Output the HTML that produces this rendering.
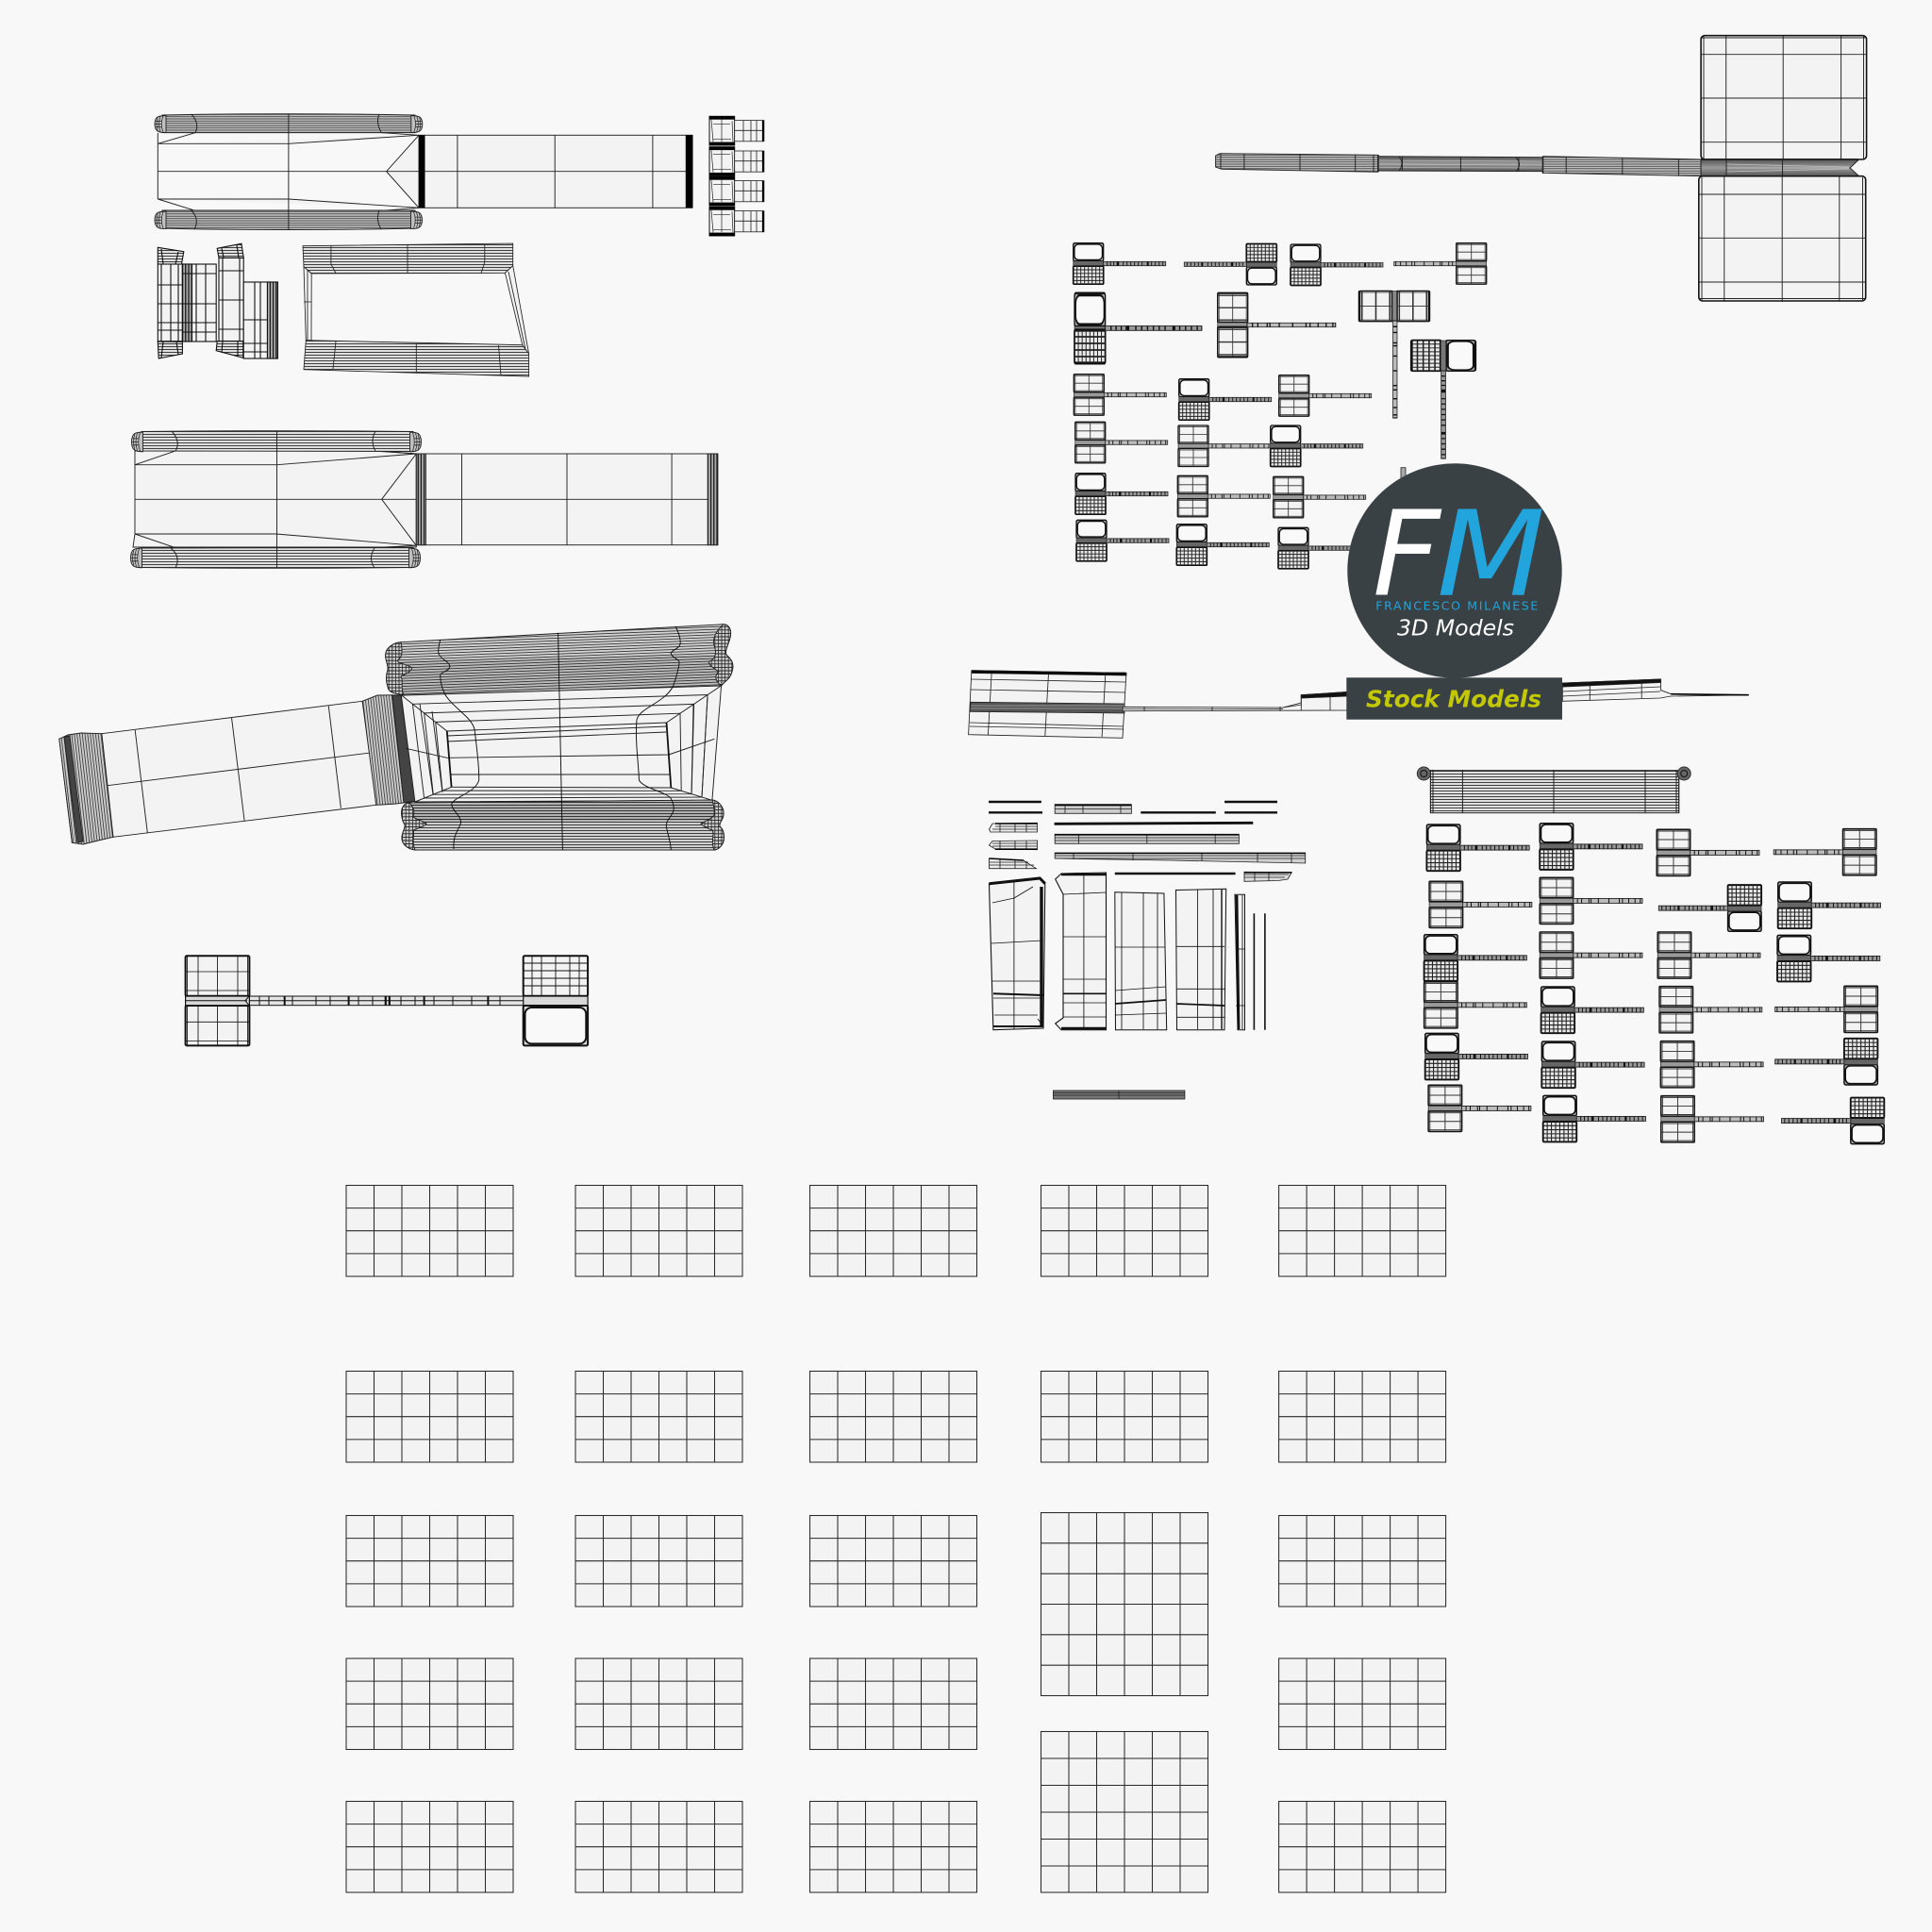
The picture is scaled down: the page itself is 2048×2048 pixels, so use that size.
<!DOCTYPE html>
<html><head><meta charset="utf-8"><title>FM 3D Models wireframe</title>
<style>html,body{margin:0;padding:0;background:#f8f8f8}svg{display:block}</style></head>
<body>
<svg xmlns="http://www.w3.org/2000/svg" width="2048" height="2048" viewBox="0 0 2048 2048">
<defs>
<linearGradient id="bandg" x1="0" y1="0" x2="0" y2="1"><stop offset="0" stop-color="#555"/><stop offset=".5" stop-color="#9a9a9a"/><stop offset="1" stop-color="#555"/></linearGradient>
<pattern id="h25" width="10" height="2.4" patternUnits="userSpaceOnUse"><rect width="10" height="2.4" fill="#c4c4c4"/><path d="M0 1.2H10" stroke="#333" stroke-width=".8"/></pattern>
<pattern id="h3" width="10" height="3" patternUnits="userSpaceOnUse"><rect width="10" height="3" fill="#e0e0e0"/><path d="M0 1.5H10" stroke="#222" stroke-width=".85"/></pattern>
<pattern id="h2" width="10" height="2" patternUnits="userSpaceOnUse"><rect width="10" height="2" fill="#aaa"/><path d="M0 1H10" stroke="#222" stroke-width=".7"/></pattern>
<pattern id="r1" width="10" height="2.8" patternUnits="userSpaceOnUse" patternTransform="rotate(-2.2)"><rect width="10" height="2.8" fill="#d4d4d4"/><path d="M0 1.4H10" stroke="#222" stroke-width=".8"/></pattern>
<pattern id="r3" width="10" height="3" patternUnits="userSpaceOnUse"><rect width="10" height="3" fill="#d0d0d0"/><path d="M0 1.5H10" stroke="#222" stroke-width=".85"/></pattern>
<pattern id="v3" width="2.8" height="10" patternUnits="userSpaceOnUse" patternTransform="rotate(-6.5)"><rect width="2.8" height="10" fill="#ccc"/><path d="M1.4 0V10" stroke="#222" stroke-width=".75"/></pattern>
<pattern id="v2" width="3.2" height="10" patternUnits="userSpaceOnUse"><rect width="3.2" height="10" fill="#aaa"/><path d="M1.6 0V10" stroke="#000" stroke-width="1.1"/></pattern>
<pattern id="x2" width="3.6" height="3.6" patternUnits="userSpaceOnUse"><rect width="3.6" height="3.6" fill="#ccc"/><path d="M1.8 0V3.6M0 1.8H3.6" stroke="#222" stroke-width=".8"/></pattern>

<g id="panel" fill="none" stroke="#2a2a2a" stroke-width="1.05"><rect width="177" height="96.5" fill="#f3f3f3"/><path d="M29.5 0V96.5M59 0V96.5M88.5 0V96.5M118 0V96.5M147.5 0V96.5M0 24.1H177M0 48.2H177M0 72.4H177"/></g>

<g id="ec"><path d="M12 0Q5 .3 3 1.5Q0 3.5 0 9Q0 14.5 3 16.5Q5 18 12 18Z" fill="#c0c0c0" stroke="#222" stroke-width=".9"/><path d="M9 .5Q5.5 9 9 17.5M6 1Q3 9 6 17M3.2 2Q1 9 3.2 16M1 6H8M.5 9H7M1 12H8" fill="none" stroke="#222" stroke-width=".7"/></g>

<g id="hb"><rect width="32" height="19" rx="1.5" fill="#aaa" stroke="#111" stroke-width="1.3"/><rect x="1.2" y="1.2" width="29.6" height="16.6" rx="4.5" fill="#f9f9f9" stroke="#111" stroke-width="1.4"/></g>
<g id="hd"><rect width="32" height="19" rx="1" fill="#e8e8e8" stroke="#111" stroke-width="1.7"/><path d="M4 0V19M8 0V19M12 0V19M16 0V19M20 0V19M24 0V19M28 0V19M0 3.8H32M0 7.6H32M0 11.4H32M0 15.2H32" stroke="#222" stroke-width=".95" fill="none"/></g>
<g id="hg"><rect width="32" height="19" rx=".8" fill="#f3f3f3" stroke="#111" stroke-width="1.35"/><path d="M1.5 0V19M16 0V19M30.5 0V19M0 1.5H32M0 9.5H32M0 17.5H32" stroke="#333" stroke-width=".85" fill="none"/></g>
<g id="hl"><rect width="66" height="4.4" fill="#999" stroke="#222" stroke-width=".8"/><path d="M4 0V4.4M7.5 0V4.4M11 0V4.4M14.5 0V4.4M21 0V4.4M25 0V4.4M29 0V4.4M33 0V4.4M37 0V4.4M41 0V4.4M51 0V4.4M55 0V4.4M59 0V4.4M63 0V4.4" stroke="#111" stroke-width=".9" fill="none"/><path d="M15.5 0V4.4M47 0V4.4" stroke="#111" stroke-width="2"/></g>
<g id="hs"><rect width="66" height="4.4" fill="#bbb" stroke="#222" stroke-width=".8"/><path d="M4 0V4.4M8 0V4.4M15 0V4.4M17 0V4.4M24 0V4.4M34 0V4.4M44 0V4.4M47 0V4.4M53 0V4.4M59 0V4.4M64 0V4.4" stroke="#111" stroke-width=".9" fill="none"/></g>
<g id="A"><use href="#hb"/><rect y="19" width="32" height="5.2" fill="#666" stroke="#222" stroke-width=".6"/><use href="#hd" y="24.5"/><use href="#hl" x="32" y="19.6"/></g>
<g id="B"><use href="#hg"/><rect y="19.5" width="32" height="4.5" fill="#999" stroke="#222" stroke-width=".6"/><use href="#hg" y="24.5"/><use href="#hs" x="32" y="19.6"/></g>

<g id="tool"><rect width="26.7" height="30.7" fill="#f3f3f3" stroke="#111" stroke-width="1"/><rect width="26.7" height="3.4" fill="#000"/><rect y="27.3" width="26.7" height="3.4" fill="#000"/><path d="M2 3.5L4 27M24 5L25 27M4 8H22M4 24H23M13 3V27" stroke="#222" stroke-width=".7" fill="none"/><rect x="26.7" y="4.3" width="31.2" height="22.2" fill="#f3f3f3" stroke="#222" stroke-width=".8"/><path d="M36 4.3V26.5M44 4.3V26.5M50 4.3V26.5M26.7 15H58" stroke="#222" stroke-width=".8" fill="none"/><rect x="55.9" y="4.3" width="2" height="22.2" fill="#000"/></g>
</defs>

<rect width="2048" height="2048" fill="#f8f8f8"/>

<!-- Panels -->
<use href="#panel" x="367" y="1256.5"/><use href="#panel" x="610" y="1256.5"/><use href="#panel" x="858.5" y="1256.5"/><use href="#panel" x="1103.5" y="1256.5"/><use href="#panel" x="1355.6" y="1256.5"/>
<use href="#panel" x="367" y="1453.5"/><use href="#panel" x="610" y="1453.5"/><use href="#panel" x="858.5" y="1453.5"/><use href="#panel" x="1103.5" y="1453.5"/><use href="#panel" x="1355.6" y="1453.5"/>
<use href="#panel" x="367" y="1606.5"/><use href="#panel" x="610" y="1606.5"/><use href="#panel" x="858.5" y="1606.5"/><use href="#panel" x="1355.6" y="1606.5"/>
<use href="#panel" x="367" y="1758"/><use href="#panel" x="610" y="1758"/><use href="#panel" x="858.5" y="1758"/><use href="#panel" x="1355.6" y="1758"/>
<use href="#panel" x="367" y="1909.5"/><use href="#panel" x="610" y="1909.5"/><use href="#panel" x="858.5" y="1909.5"/><use href="#panel" x="1355.6" y="1909.5"/>
<g fill="none" stroke="#2a2a2a" stroke-width="1.05">
<rect x="1103.5" y="1603.5" width="177" height="194" fill="#f3f3f3"/><path d="M1133 1603V1797M1162.5 1603V1797M1192 1603V1797M1221.5 1603V1797M1251 1603V1797M1103.5 1635.8H1280.5M1103.5 1668.2H1280.5M1103.5 1700.5H1280.5M1103.5 1732.8H1280.5M1103.5 1765.2H1280.5"/>
<rect x="1103.5" y="1835.5" width="177" height="170.5" fill="#f3f3f3"/><path d="M1133 1835V2006M1162.5 1835V2006M1192 1835V2006M1221.5 1835V2006M1251 1835V2006M1103.5 1864H1280.5M1103.5 1892.5H1280.5M1103.5 1921H1280.5M1103.5 1949.5H1280.5M1103.5 1978H1280.5"/>
</g>

<!-- Part A -->
<g stroke="#222" stroke-width=".95" fill="none">
<path d="M167.3 141V211M167.3 152.3H305.9L444 143.3M167.3 181.7H444M167.3 211H305.9L444 220.3M444 143.3L409.6 181.7 444 220.3M167.3 152.3L207 140.7M444 143.3L404.6 140.7M167.3 211L207 223.3M444 220.3L404.6 223.3" fill="#f3f3f3"/>
<path d="M172 122Q240 120.7 305 120.7T440 122V140.7H172Z" fill="url(#h25)"/>
<path d="M172 223H440V242Q380 243.5 305 243.5T172 242Z" fill="url(#h25)"/>
<path d="M202.6 121Q212 130 207 141M402 121Q398 130 404.6 141M202.6 223Q212 232 206 243M402 223Q398 233 404 243M305.9 120.7V243.3"/>
<rect x="444" y="143.3" width="290.1" height="77" fill="#f3f3f3"/>
<path d="M444 181.7H734M484.9 143.3V220.3M588.2 143.3V220.3M691.9 143.3V220.3"/>
</g>
<use href="#ec" transform="translate(164,122.5)"/><use href="#ec" transform="translate(447.8,122.5) scale(-1,1)"/><use href="#ec" transform="translate(164,224) scale(1,1.03)"/><use href="#ec" transform="translate(447.5,224) scale(-1,1.03)"/>
<rect x="444" y="143.3" width="6.5" height="77" fill="#000"/><rect x="726.8" y="143.3" width="7.3" height="77" fill="#000"/>
<use href="#tool" x="752" y="123.3"/><use href="#tool" x="752" y="155.7"/><use href="#tool" x="752" y="187.3"/><use href="#tool" x="752" y="219.3"/>

<!-- Side pieces -->
<g stroke="#111" stroke-width="1.1" fill="none">
<rect x="167.3" y="280" width="26.1" height="81.7" fill="#f3f3f3"/>
<path d="M171 280V362M181 280V362M189 280V362M167 302H193M167 322H193M167 342H193M167 350H193"/>
<rect x="193.4" y="280" width="35.8" height="82" fill="#f3f3f3"/>
<rect x="193.4" y="280" width="10.1" height="82" fill="url(#v2)"/>
<path d="M208 280V362M218 280V362M193 290H229M193 322H229M193 342H229M193 352H229"/>
<path d="M167.3 262.3L194.8 266.7 192.5 280H167.3Z" fill="url(#h3)"/><path d="M167.3 362L193.4 362.3 193.4 375 168.2 380Z" fill="url(#h3)"/>
<path d="M171 264L173 280M189 267L186 280M171 379L173 362M189 376L187 362" />
<rect x="232" y="273.3" width="26.2" height="88.4" fill="#f3f3f3"/>
<path d="M236 273V362M254 273V362M232 287H258M232 318H258M232 349H258"/>
<rect x="258.2" y="299" width="36.2" height="81" fill="#f3f3f3"/>
<path d="M270 299V380M276 299V380M258 339H294M258 364H294M258 373H294"/>
<rect x="283.4" y="299" width="11" height="81" fill="url(#v2)"/>
<path d="M230.2 263.3L255.9 258.3 258.2 273.3H232Z" fill="url(#h3)"/><path d="M230.2 361.7H257.7V379.3L229.2 371.7Z" fill="url(#h3)"/>
<path d="M235 263L237 273M251 260L253 273M235 374L236 362M252 378L252 362"/>
</g>

<!-- Frame -->
<g stroke="#222" stroke-width=".85" fill="none">
<path d="M321 260.7L543.7 258V281.7L535.4 289.3 330.2 290 322 282.7Z" fill="url(#h3)"/>
<path d="M324.3 360.7L553.8 365.7 560.6 375V399L322 391.7Z" fill="url(#h3)"/>
<path d="M322 282.7L330.2 290 330 360.7 324.3 360.7ZM326 286V361M322 320H330" fill="#f3f3f3"/>
<path d="M543.7 281.7L535.4 289.3 553.8 365.7 560.6 375ZM539 288L557 370" fill="#f3f3f3"/>
<path d="M350.9 260.7V280L356 289.5M432 259.5V290M513.8 259V278L510 289.5M356 362L353 391M441.3 364V395M528.5 366L531 398"/>
</g>

<!-- Part C -->
<g stroke="#222" stroke-width=".95" fill="none">
<path d="M143 478V566L141 580H441.3V481L400 478Z" fill="#f3f3f3"/>
<path d="M143 492.7H293.5L441.3 481M143 529.3H441.3M143 566H292.6L441.3 578.3M143 492.7L185 478.3M441.3 481L400 478.3M143 566L185 580.3M441.3 578.3L400 580.3M441.3 481L404.6 529.3 441.3 578.3"/>
<path d="M150 457.5Q230 456.7 300 456.7T438 457.5V478.5L150 478Z" fill="url(#h3)"/>
<path d="M150 581L438 580.5V601.5Q370 602.3 300 602.3T150 601.5Z" fill="url(#h3)"/>
<path d="M182 457Q192 468 186 478M398 457Q392 468 398 478M181 581Q192 590 186 602M397 581Q390 592 397 602M293.5 456.7V602"/>
<rect x="441.3" y="481" width="319.5" height="96.7" fill="#f3f3f3"/>
<path d="M441.3 529.3H760.8M489.5 481V577.7M601 481V577.7M712.1 481V577.7"/>
<rect x="441.3" y="481" width="10.1" height="96.7" fill="url(#v2)"/>
<rect x="750.2" y="481" width="10.6" height="96.7" fill="url(#v2)"/>
</g>
<use href="#ec" transform="translate(139.5,458) scale(1,1.15)"/><use href="#ec" transform="translate(446.5,458) scale(-1,1.15)"/><use href="#ec" transform="translate(138.5,581) scale(1,1.15)"/><use href="#ec" transform="translate(445.5,581) scale(-1,1.15)"/>

<!-- Part D -->
<g stroke="#222" stroke-width=".95" fill="none">
<path d="M62.8 783.3L107.9 777.7 384.1 743.3 415.6 736.7 439.9 849.3 398.7 853.3 120 887.3 76.4 893.3Z" fill="#f3f3f3"/>
<path d="M69 838.3L430.2 793.3M143.2 774L156.3 882.7M245.5 760.7L259.1 870M348.3 748.3L361.4 856.7"/>
<path d="M62.8 783.3L72 779 86 777 107.9 777.7 120 887.3 100 892 88 895 76.4 893.3Z" fill="url(#v3)"/>
<path d="M384.1 743.3L400 737 425 736.7 439.9 849.3 420 852 405 853 398.7 853.3Z" fill="url(#v3)"/>
<path d="M68 781L74 780 88 892 82 893Z" fill="#444"/>
<path d="M416 737L425 737 440 849 428 851Z" fill="#444"/>
<path d="M425.3 736.7L764.6 726.7 754.9 848.3 439.9 850Z" fill="#f3f3f3"/>
<path d="M437.4 746.3L750.1 736.5 744 845 449.6 846ZM449.6 755.9L735.6 746.4 733.1 841.7 459.3 842.2ZM461.7 765.4L721 756.2 722.2 838.3 469 838.1Z"/>
<path d="M473.8 775L706.5 766 711.3 835 478.6 834.3Z" fill="#f3f3f3"/>
<path d="M425.3 736.7L473.8 775M764.6 726.7L706.5 766M754.9 848.3L711.3 835M439.9 850L478.6 834.3M430.2 793.3L473.8 803.3 708.9 800 757.4 783.3M478 821H710M474 780L706 770M474 786L706 776M445 746L459 842M458 754L469 840M735 747L733 842M750 738L744 845"/>
<path d="M473.8 775L478.6 834.3M706.5 766L711.3 835" stroke="#111" stroke-width="1.8"/>
<path d="M425 680.7L767 661.7C773 662 776 668 774 676C772 684 768 690 770 694C774 698 779 702 776 712C774 720 768 722 764.6 727L428.3 737C420 735 412 735 411 728C409 722 409 716 411 710C412 704 407 698 409 692C410 686 418 681 425 680.7Z" fill="url(#r1)"/>
<path d="M420 700L435 708 425 720 428 737 765 727 771 694 420 700Z" fill="#000" fill-opacity=".1" stroke="none"/>
<path d="M434 851L755 848C762 849 768 856 767 864C766 870 762 872 763 876C768 880 768 888 767 892C765 898 760 901 757 901L440 901C432 900 426 895 426 888C426 882 430 878 429 874C426 870 425 862 426 858C427 854 430 851 434 851Z" fill="url(#r3)"/>
<path d="M430 852L757 849 764 870 440 872Z" fill="#000" fill-opacity=".15" stroke="none"/>
<path d="M425 680.7C418 681 410 686 409 692C407 698 412 704 411 710C409 716 409 722 411 728C412 735 420 735 428 737C424 728 428 722 425 716.7C432 714 437 710 436.7 708C432 704 420 703 421.7 700C426 697 427 690 425 680.7Z" fill="url(#x2)"/>
<path d="M767 661.7C773 662 776 668 774 676C772 684 768 690 770 694C774 698 779 702 776 712C774 720 768 722 764.6 727C758 722 757 716 762 712C756 708 750 704 752 701C760 698 759 690 757 684C755 676 760 668 767 661.7Z" fill="url(#x2)"/>
<path d="M434 851C430 851 427 854 426 858C425 862 426 870 429 874C430 878 426 882 426 888C426 895 432 900 440 901C436 892 440 884 438 880C444 878 452 875 452 873C448 870 440 868 438 866C440 860 438 855 434 851Z" fill="url(#x2)"/>
<path d="M755 848C762 849 768 856 767 864C766 870 762 872 763 876C768 880 768 888 767 892C765 898 760 901 757 901C753 892 758 884 755 880C750 878 743 875 743 873C748 870 755 868 757 864C758 858 756 852 755 848Z" fill="url(#x2)"/>
<path d="M466.7 678C465 685 464 690 465 693C468 700 478 702 476.7 707C476 712 466 712 466.7 717C467 725 469 730 471.7 736C480 750 500 760 503 773C505 790 508 810 507.7 826.7C505 840 480 845 478.6 853C480 860 490 866 488.3 873C486 880 480 885 481 900M591.6 670.7L596.4 901M716.2 664C720 672 722 678 721 683C720 688 711 689 711.3 693C712 697 721 699 720 703C719 712 716 720 713.7 727C705 745 678 750 675 763C673 785 677 810 677.4 826.7C680 835 708 840 711.3 846.7C714 852 715 856 713.7 860C712 866 705 870 706.5 877C708 885 711 893 711.3 901" stroke="#111"/>
</g>

<!-- Big hammer bottom-left -->
<g stroke="#111" fill="none">
<g stroke-width="1"><rect x="264" y="1056" width="291" height="9.7" fill="#e4e4e4"/>
<path d="M275 1056V1065.7M285 1056V1065.7M310 1056V1065.7M335 1056V1065.7M350 1056V1065.7M380 1056V1065.7M395 1056V1065.7M425 1056V1065.7M440 1056V1065.7M460 1056V1065.7M480 1056V1065.7M500 1056V1065.7M530 1056V1065.7M264 1060.8H555"/></g>
<path d="M301.7 1056V1065.7M369.6 1056V1065.7M449.6 1056V1065.7M517.4 1056V1065.7" stroke-width="2"/><path d="M408.8 1056V1065.7M412.8 1056V1065.7" stroke-width="2.2"/>
<rect x="196.6" y="1013.3" width="67.8" height="42.4" rx="1.5" fill="#f3f3f3" stroke-width="2"/>
<rect x="196.6" y="1066" width="67.8" height="42.4" rx="1.5" fill="#f3f3f3" stroke-width="2"/>
<path d="M198.5 1013V1056M230.5 1013V1056M262.5 1013V1056M197 1030H264M197 1050H264M198.5 1066V1108M230.5 1066V1108M262.5 1066V1108M197 1083.3H264M197 1103.5H264M210 1013V1056M252 1013V1056M210 1066V1108M252 1066V1108" stroke-width=".85"/>
<rect x="196.6" y="1056" width="67.8" height="9.7" fill="#d8d8d8" stroke-width="1.2"/><path d="M197 1060.8H262" stroke-width="1"/><path d="M264 1056L260 1060.8 264 1065.7" stroke-width="1"/>
<rect x="554.7" y="1013.3" width="68.4" height="42.4" rx="1.5" fill="#f3f3f3" stroke-width="2"/>
<path d="M564 1013V1056M574 1013V1056M589 1013V1056M604 1013V1056M614 1013V1056M555 1021H623M555 1029H623M555 1037H623M555 1045H623" stroke-width=".9"/>
<rect x="554.7" y="1056" width="68.4" height="9.7" fill="#d8d8d8" stroke-width="1.2"/>
<rect x="554.7" y="1066" width="68.4" height="42.4" rx="1.5" fill="#dcdcdc" stroke-width="2"/>
<rect x="556.5" y="1068" width="64.8" height="38.4" rx="7" fill="#f9f9f9" stroke-width="2"/>
</g>

<!-- Big hammer top-right -->
<g stroke="#222" fill="none" stroke-width=".95">
<rect x="1803.1" y="37.7" width="175.5" height="131.3" rx="4" fill="#f3f3f3" stroke="#111" stroke-width="1.6"/>
<path d="M1829.7 38V169M1890.2 37V169M1951.6 38V169M1803 57.7H1978.6M1803 104H1978.6M1803 150.7H1978.6M1806 38V169M1975.5 38V169M1804 40H1978"/>
<rect x="1800.8" y="186.7" width="176.9" height="132.3" rx="4" fill="#f3f3f3" stroke="#111" stroke-width="1.6"/>
<path d="M1827.8 187V319M1889.2 187V320M1949.8 187V319M1801 206H1977.7M1801 252.3H1977.7M1801 299H1977.7M1804 188V319M1974.5 188V319M1802 316.5H1977"/>
<path d="M1288.6 165L1293 162.7 1460.9 164.3V182.3L1295 179.3 1288.6 177Z" fill="url(#h25)"/>
<path d="M1460.9 165.7L1635.5 166.7V181.7L1460.9 181Z" fill="url(#bandg)"/>
<path d="M1461 170L1635 171M1461 174L1635 175M1461 177.5L1635 178" stroke="#bbb" stroke-width=".7"/>
<path d="M1635.5 165.7L1803.1 169V186.7L1635.5 183.3Z" fill="url(#h25)"/>
<path d="M1803.1 169H1970.7L1961 178 1970.7 186.7H1803.1Z" fill="url(#bandg)"/>
<path d="M1830 174L1960 177M1830 182L1960 179M1830 178H1960" stroke="#c4c4c4" stroke-width=".8"/>
<path d="M1803 169H1970M1803 186.7H1970" stroke="#111" stroke-width="1.5"/>
<path d="M1318.9 163V180M1378 163V181M1436.7 164V182M1486.5 166V181M1548.4 166V182M1609.9 167V182M1660.2 166V184M1719.8 167V185M1779.4 168V186M1889.5 169V187M1830 169V187M1294 163V179M1456 164V182M1483 166Q1489 173 1483 181M1607 167Q1614 174 1607 182"/>
<path d="M1460.9 164V182M1635.5 166V184" stroke-width="1.6"/>
</g>

<!-- Hammers group 1 -->
<use href="#A" transform="translate(1137.7,257.7)"/>
<use href="#A" transform="translate(1353.3,302) scale(-1,-1)"/>
<use href="#A" transform="translate(1368,259)"/>
<use href="#B" transform="translate(1575.7,257.7) scale(-1,1)"/>
<use href="#hb" transform="translate(1139,310.7) scale(1.02,1.86)"/>
<rect x="1139" y="346" width="32.7" height="4" fill="#777" stroke="#222" stroke-width=".6"/>
<use href="#hd" transform="translate(1139,350) scale(1.02,1.84)"/>
<use href="#hl" transform="translate(1171.5,345.5) scale(1.55,1.1)"/>
<use href="#hg" transform="translate(1290.7,310.7) scale(1,1.63)"/>
<rect x="1290.7" y="342" width="32" height="4.5" fill="#999" stroke="#222" stroke-width=".6"/>
<use href="#hg" transform="translate(1290.7,346.7) scale(1,1.67)"/>
<use href="#hs" transform="translate(1322,342.3) scale(1.42,1)"/>
<use href="#hg" transform="translate(1441,340.7) rotate(-90) scale(1.01,1.84)"/>
<use href="#hg" transform="translate(1480.6,340.7) rotate(-90) scale(1.01,1.81)"/>
<rect x="1476" y="308.5" width="4.6" height="32" fill="#888" stroke="#222" stroke-width=".6"/>
<use href="#hs" transform="translate(1481,340) rotate(90) scale(1.56,1)"/>
<use href="#hd" transform="translate(1496.3,393.3) rotate(-90) scale(1.02,1.63)"/>
<use href="#hb" transform="translate(1532.7,393.3) rotate(-90) scale(1.02,1.65)"/>
<rect x="1527.3" y="361" width="5.4" height="32" fill="#777" stroke="#222" stroke-width=".6"/>
<use href="#hl" transform="translate(1532.4,393) rotate(90) scale(1.41,1.07)"/>
<rect x="1485" y="495.7" width="5" height="11.3" fill="#aaa" stroke="#222" stroke-width=".8"/>
<use href="#B" transform="translate(1138.3,396.7)"/><use href="#A" transform="translate(1249.7,401.7)"/><use href="#B" transform="translate(1355.7,397.7)"/>
<use href="#B" transform="translate(1139.7,447.3)"/><use href="#B" transform="translate(1249,451)"/><use href="#A" transform="translate(1346.7,451)"/>
<use href="#A" transform="translate(1140,501.7)"/><use href="#B" transform="translate(1248.3,504.3)"/><use href="#B" transform="translate(1349.7,505.3)"/>
<use href="#A" transform="translate(1141,551.3)"/><use href="#A" transform="translate(1247.3,555.7)"/><use href="#A" transform="translate(1355,559.3)"/>

<!-- Blade strip -->
<g stroke="#222" stroke-width=".85" fill="none">
<path d="M1029.9 710.7L1193.9 713.3 1190 782.3 1026.6 778.7Z" fill="#f3f3f3"/>
<path d="M1029.9 713H1193M1029.5 720L1193 723M1029 731L1193 734M1028 766L1191 770M1028 770L1191 773M1051.3 711L1047.4 779M1111.6 712L1107.8 780M1171.9 713L1168.1 781"/>
<path d="M1029.9 710.7L1193.9 713.3V716L1029.9 713.5Z" fill="#000"/>
<path d="M1029 744.3L1192 746V756L1028.5 754.3Z" fill="#555"/><path d="M1029 748H1192M1029 751H1192" stroke="#aaa"/>
<path d="M1190 749.3L1360 750 1379.3 745V736.7L1428 733.5V753L1190 753.7Z" fill="#f3f3f3"/>
<path d="M1190 751.5H1360M1213 749V754M1285 749V754M1357 749V754M1379.3 737V753M1410 735V753M1360 750L1380 747"/>
<path d="M1379.3 736.7L1428 733.5V738L1379.3 740Z" fill="#111"/>
<path d="M1656.3 724L1760.5 720V731.7L1771.4 735.7 1853.7 736.7 1771 738 1760 740 1656.3 743.3Z" fill="#f3f3f3"/>
<path d="M1685.3 722.5V742M1740.2 720.5V740M1656 733L1760 728M1656 738L1760 733"/>
<path d="M1656.3 724L1760.5 720V723.5L1656.3 728Z" fill="#111"/>
<path d="M1771.4 735.7L1853.7 736.7" stroke="#000" stroke-width="1.6"/>
</g>

<!-- Strips and tall panels -->
<g stroke="#111" fill="none">
<path d="M1048 850H1103.9M1048 861.3H1105M1209.2 861.3H1288.8M1298.1 850H1354M1298.1 861.3H1354" stroke-width="2.4"/>
<path d="M1117.6 873.3L1328.3 872.3" stroke-width="2.8"/>
<path d="M1181.8 926H1309.6" stroke-width="2.4"/>
<g stroke-width=".85" stroke="#222">
<rect x="1118.2" y="852.7" width="81.2" height="9.6" fill="#ccc"/><path d="M1118 854H1199M1118 857.5H1199M1129 853V862M1148 853V862M1188 853V862"/><path d="M1118 853.2H1199" stroke="#000" stroke-width="1.5"/>
<rect x="1118.2" y="884.3" width="195.2" height="10" fill="#d0d0d0"/><path d="M1118 888H1313M1118 891H1313M1143.4 884V894M1215.8 884V894M1288.2 884V894"/><path d="M1118 885H1313" stroke="#000" stroke-width="1.2"/>
<path d="M1118.2 904H1383.7V915L1240 912 1118.2 910Z" fill="#d0d0d0"/><path d="M1118 907H1384M1118 910H1384M1138 904V911M1201 904V912M1274 904V913M1333 904V914M1369 904V915"/><path d="M1118 904.5H1384" stroke="#000" stroke-width="1.2"/>
<path d="M1052 873L1099.5 872.3V882L1050 882 1048.5 879Z" fill="#eee"/><path d="M1055 876H1099M1052 879H1099M1060 873V882M1076 873V882M1088 873V882"/><path d="M1055 873H1099.5" stroke="#000" stroke-width="1.6"/>
<path d="M1052 891.5L1099.5 891V900.7L1055 900 1048.5 896Z" fill="#eee"/><path d="M1052 894H1099M1052 897H1099M1060 891V901M1076 891V901M1088 891V901"/><path d="M1055 900.2H1099.5" stroke="#000" stroke-width="1.6"/>
<path d="M1048.5 910L1085 912 1098.4 920.7H1048.5Z" fill="#eee"/><path d="M1049 914H1090M1049 917H1096M1060 911V921M1076 911V921M1088 913V921"/><path d="M1048.5 910L1085 912" stroke="#000" stroke-width="1.5"/>
<path d="M1319 924.3L1369.4 924.5 1365 932 1355 933.5 1319 934.3Z" fill="#ddd"/><path d="M1319 927H1366M1319 930H1362M1330 924V934M1345 924V934"/><path d="M1319 925H1369" stroke="#000" stroke-width="1.2"/>
<rect x="1116.5" y="1156" width="139.4" height="9" fill="#777"/><path d="M1116 1158.5H1256M1116 1161H1256M1186 1156V1165"/>
</g>
<path d="M1048.5 936.7L1102.3 931 1107.8 936.7 1106 1090 1052.9 1091.7Z" fill="#f3f3f3" stroke-width="1.1"/>
<path d="M1074.9 935V1091M1052 957L1075 952M1051 1000L1105 997M1052 1040H1105M1053 1058H1105M1054 1076H1100M1095 940L1075 952M1100 1080L1106 1088" stroke-width=".85"/>
<path d="M1048.5 936.7L1102.3 931 1107.8 936.7" stroke-width="3"/><path d="M1104 940V1088" stroke-width="3.4"/><path d="M1053 1053.3L1106 1055M1053 1088L1106 1088" stroke-width="2"/>
<path d="M1118.7 932L1125 926 1172.5 925V1091.7H1125L1118.7 1085 1127 1079V948Z" fill="#f3f3f3" stroke-width="1.1"/>
<path d="M1148.9 926V1091M1127 948L1172 946M1127 993H1172M1127 1038H1172M1127 1063H1172M1127 1078H1172" stroke-width=".85"/>
<path d="M1125 927H1172.5M1125 1090H1172.5" stroke-width="2.6"/><path d="M1127 1053.3H1172" stroke-width="1.6"/>
<path d="M1181.8 945.7L1233.9 947 1236.7 1091.7H1182.5Z" fill="#f3f3f3" stroke-width="1"/>
<path d="M1189 946V1091M1212 946V1091M1227 947V1091M1182 1004H1235M1182 1050L1236 1046M1182 1076L1236 1074" stroke-width=".85"/><path d="M1182 1064L1236 1060" stroke-width="1.7"/>
<path d="M1246.5 943.5L1299.7 942.3 1298 1091.7H1247.5Z" fill="#f3f3f3" stroke-width="1"/>
<path d="M1269.6 943V1091M1286 943V1091M1247 1003.3H1298M1247 1048.3H1298M1247 1078.3H1298" stroke-width=".85"/><path d="M1247 1064L1298 1066" stroke-width="1.7"/><path d="M1295 943V1091" stroke-width="1.4"/>
<path d="M1309 948.3H1319.5V1091.7H1312Z" fill="#f3f3f3" stroke-width="1"/><path d="M1311 949L1313 1091" stroke-width="2.8"/><path d="M1317 949V1091M1310 1006H1319M1310 1066H1319" stroke-width=".85"/>
<path d="M1329.4 968.3V1091.7M1340.9 968.3V1091.7" stroke-width="1.6"/>
</g>

<!-- Hatched top right -->
<rect x="1516.4" y="816.7" width="263.3" height="45" fill="url(#h3)" stroke="#222" stroke-width="1"/>
<path d="M1516.4 816V862M1519 816V862M1777 816V862M1779.7 816V862M1550.4 816V862M1647 816V862M1744 816V862" stroke="#222" stroke-width="1" fill="none"/>
<circle cx="1509.3" cy="820" r="7" fill="#666" stroke="#333"/><circle cx="1785.2" cy="820" r="7" fill="#666" stroke="#333"/>
<circle cx="1509.3" cy="820" r="3.5" fill="none" stroke="#111"/><circle cx="1785.2" cy="820" r="3.5" fill="none" stroke="#111"/>

<!-- Hammers group 2 -->
<use href="#A" transform="translate(1512.4,874) scale(1.11,1.13)"/><use href="#A" transform="translate(1632.2,872.7) scale(1.11,1.13)"/><use href="#B" transform="translate(1756.2,879.3) scale(1.11,1.13)"/><use href="#B" transform="translate(1989,878.7) scale(-1.11,1.13)"/>
<use href="#B" transform="translate(1515.1,934.3) scale(1.11,1.13)"/><use href="#B" transform="translate(1632.2,930.3) scale(1.11,1.13)"/><use href="#A" transform="translate(1867.1,987.3) scale(-1.11,-1.13)"/><use href="#A" transform="translate(1884.7,935) scale(1.11,1.13)"/>
<use href="#A" transform="translate(1509.6,990.7) scale(1.11,1.13)"/><use href="#B" transform="translate(1632.2,988) scale(1.11,1.13)"/><use href="#B" transform="translate(1757.2,988) scale(1.11,1.13)"/><use href="#A" transform="translate(1884,991.3) scale(1.11,1.13)"/>
<use href="#B" transform="translate(1509.6,1040.7) scale(1.11,1.13)"/><use href="#A" transform="translate(1633.6,1046) scale(1.11,1.13)"/><use href="#B" transform="translate(1759,1045.7) scale(1.11,1.13)"/><use href="#B" transform="translate(1990.4,1045.3) scale(-1.11,1.13)"/>
<use href="#A" transform="translate(1510.7,1095.3) scale(1.11,1.13)"/><use href="#A" transform="translate(1634.3,1104) scale(1.11,1.13)"/><use href="#B" transform="translate(1760.3,1103.7) scale(1.11,1.13)"/><use href="#A" transform="translate(1990.4,1150) scale(-1.11,-1.13)"/>
<use href="#B" transform="translate(1514.1,1150.3) scale(1.11,1.13)"/><use href="#A" transform="translate(1635.7,1161.3) scale(1.11,1.13)"/><use href="#B" transform="translate(1760.7,1161.7) scale(1.11,1.13)"/><use href="#A" transform="translate(1997.3,1212.7) scale(-1.11,-1.13)"/>

<!-- Logo -->
<circle cx="1542" cy="605" r="113.7" fill="#3a4144"/>
<rect x="1427.3" y="718.3" width="228.7" height="44.4" fill="#3a4144"/>
<text x="1455" y="630.7" font-family="'DejaVu Sans',sans-serif" font-style="oblique" font-size="125" fill="#ffffff">F</text>
<text x="1523" y="630.7" font-family="'DejaVu Sans',sans-serif" font-style="oblique" font-size="125" fill="#22a4dc" textLength="115" lengthAdjust="spacingAndGlyphs">M</text>
<text x="1458.3" y="646.7" font-family="'DejaVu Sans',sans-serif" font-size="12.5" fill="#22a4dc" textLength="172" lengthAdjust="spacing">FRANCESCO MILANESE</text>
<text x="1481" y="673.3" font-family="'DejaVu Sans',sans-serif" font-style="oblique" font-size="23" fill="#ffffff" textLength="124" lengthAdjust="spacingAndGlyphs">3D Models</text>
<text x="1448" y="749.3" font-family="'DejaVu Sans',sans-serif" font-style="oblique" font-weight="bold" font-size="24.5" fill="#c3c800" textLength="186" lengthAdjust="spacingAndGlyphs">Stock Models</text>
</svg>
</body></html>
